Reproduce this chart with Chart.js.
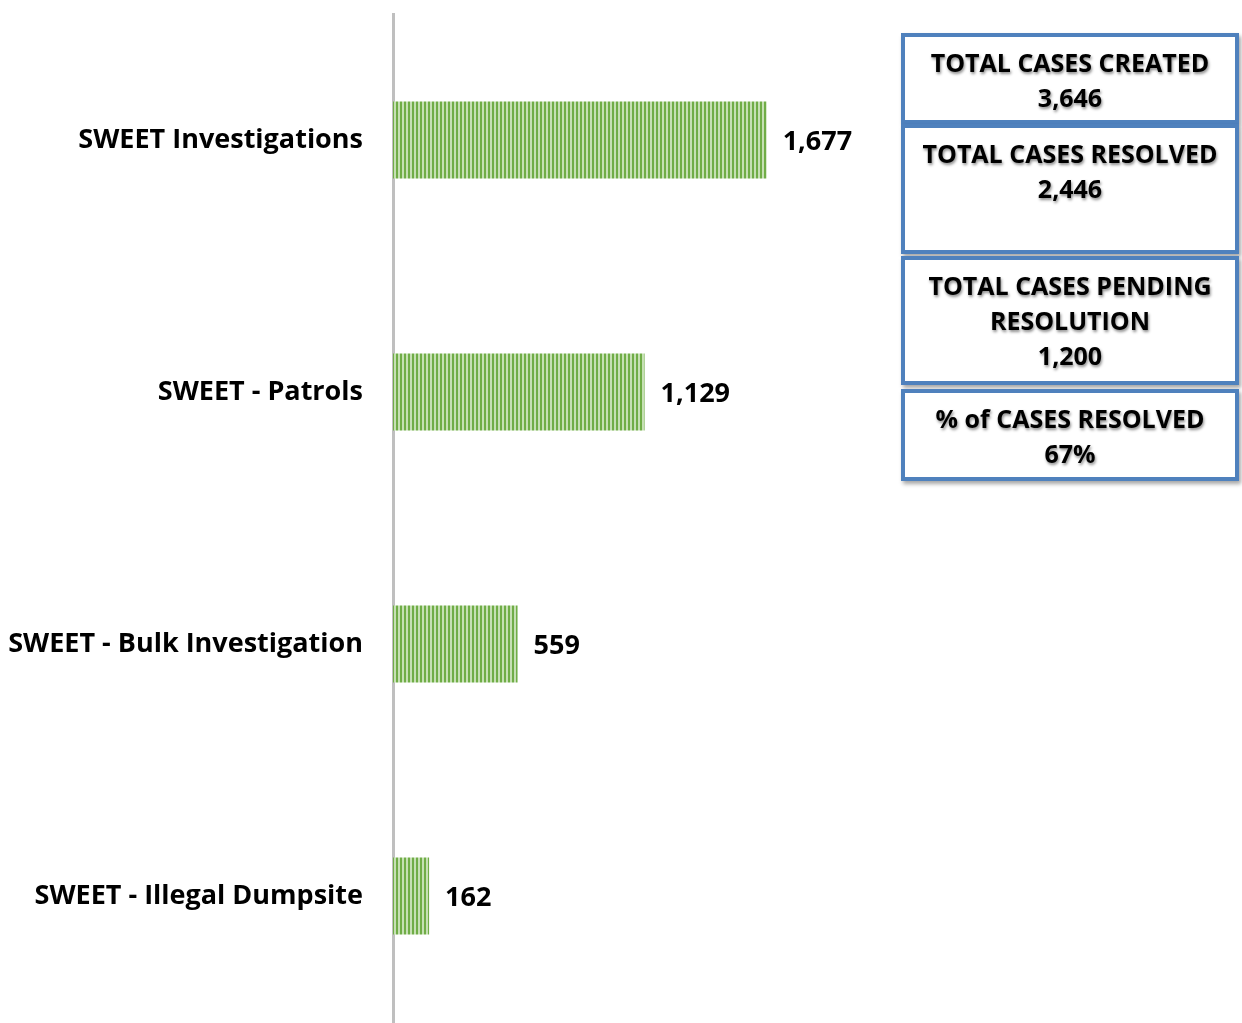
<!DOCTYPE html>
<html><head><meta charset="utf-8">
<script src="https://cdn.jsdelivr.net/npm/chart.js@4.4.1/dist/chart.umd.min.js"></script>
<style>
html,body{margin:0;padding:0;background:#fff;}
#wrap{position:relative;width:1242px;height:1023px;}
canvas{position:absolute;left:0;top:0;}
.box{position:absolute;left:901px;width:330px;border:4px solid #4f81bd;background:#fff;box-shadow:2px 3px 4px rgba(0,0,0,0.35);
 font-family:"Open Sans",sans-serif;font-weight:700;font-size:25px;line-height:35px;text-align:center;color:#000;
 text-shadow:1px 2px 3px rgba(0,0,0,0.45);box-sizing:content-box;padding-top:8px;}
</style></head>
<body><div id="wrap"><canvas id="c" width="1242" height="1023"></canvas><div id="boxes"></div></div>
<script>
const categories = ["SWEET Investigations","SWEET - Patrols","SWEET - Bulk Investigation","SWEET - Illegal Dumpsite"];
const values = [1677,1129,559,162];
const summaryTitles = ["TOTAL CASES CREATED","TOTAL CASES RESOLVED","TOTAL CASES PENDING<br>RESOLUTION","% of CASES RESOLVED"];
const summaryValues = ["3,646","2,446","1,200","67%"];

const boxGeom = [[33,83],[124,122],[256,121],[389,84]];
const boxes = document.getElementById('boxes');
summaryTitles.forEach((t,i)=>{
  const d=document.createElement('div');d.className='box';
  d.style.top=boxGeom[i][0]+'px';d.style.height=(boxGeom[i][1]-8)+'px';
  d.innerHTML=t+'<br>'+summaryValues[i];boxes.appendChild(d);
});

const pc=document.createElement('canvas');pc.width=4;pc.height=4;
const px=pc.getContext('2d');px.fillStyle='#c6e0b4';px.fillRect(0,0,4,4);px.fillStyle='#70ad47';px.fillRect(0,0,2,4);
const ctx=document.getElementById('c').getContext('2d');
const pattern=ctx.createPattern(pc,'repeat');

const FONT='"Open Sans", sans-serif';
const labelPlugin={id:'vals',afterDatasetsDraw(chart){
  const c=chart.ctx;const meta=chart.getDatasetMeta(0);
  c.save();c.font='700 27px '+FONT;c.fillStyle='#000';c.textBaseline='middle';c.textAlign='left';
  meta.data.forEach((b,i)=>{c.fillText(values[i].toLocaleString('en-US'),b.x+16,b.y+2);});
  c.restore();
}};

new Chart(ctx,{type:'bar',
 data:{labels:categories,datasets:[{data:values,backgroundColor:pattern,borderWidth:0,barPercentage:0.61,categoryPercentage:0.5}]},
 options:{indexAxis:'y',responsive:false,animation:false,
  layout:{padding:{top:14,bottom:1,left:0,right:9}},
  plugins:{legend:{display:false},tooltip:{enabled:false}},
  scales:{
   x:{display:false,min:0,max:3770},
   y:{afterFit(s){s.width=393;s.paddingTop=0;s.paddingBottom=0;},grid:{display:false,drawTicks:false},border:{display:true,color:'#bfbfbf',width:3},
      ticks:{padding:30,color:'#000',font:{family:FONT,weight:'700',size:27}}}
  }},
 plugins:[labelPlugin]});
</script></body></html>
